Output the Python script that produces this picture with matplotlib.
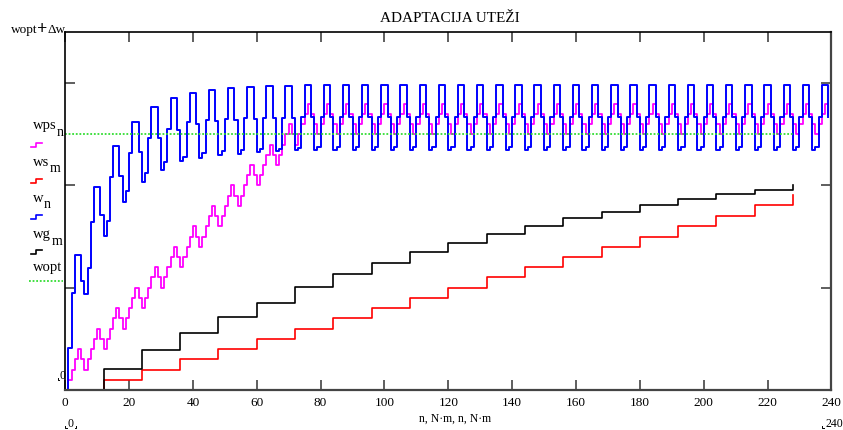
import matplotlib
matplotlib.use('Agg')

import matplotlib.pyplot as plt
from matplotlib.lines import Line2D
import numpy as np

plt.rcParams['font.family'] = ['Liberation Serif', 'DejaVu Serif']

# --- podatki (odčitani s slike) ---
N = 12
wopt = 0.5
dw = 0.2

# w_n : LMS utež, po vrsticah po 6 vzorcev (n = 6k .. 6k+5)
w_rows = [
    [0.000, 0.082, 0.190, 0.263, 0.263, 0.214],
    [0.188, 0.239, 0.329, 0.397, 0.397, 0.343],
    [0.302, 0.331, 0.416, 0.477, 0.477, 0.418],
    [0.367, 0.389, 0.463, 0.525, 0.525, 0.465],
    [0.406, 0.424, 0.492, 0.553, 0.553, 0.492],
    [0.431, 0.445, 0.510, 0.571, 0.571, 0.508],
    [0.447, 0.455, 0.524, 0.580, 0.580, 0.520],
    [0.453, 0.463, 0.527, 0.587, 0.587, 0.526],
    [0.459, 0.467, 0.530, 0.590, 0.590, 0.528],
    [0.462, 0.469, 0.531, 0.593, 0.593, 0.530],
    [0.465, 0.471, 0.532, 0.595, 0.595, 0.531],
    [0.467, 0.472, 0.532, 0.595, 0.595, 0.532],
    [0.469, 0.474, 0.533, 0.596, 0.596, 0.533],
    [0.470, 0.475, 0.533, 0.596, 0.596, 0.533],
    [0.470, 0.475, 0.533, 0.596, 0.596, 0.533],
    [0.470, 0.475, 0.533, 0.596, 0.596, 0.533],
    [0.470, 0.475, 0.533, 0.596, 0.596, 0.533],
    [0.470, 0.475, 0.533, 0.596, 0.596, 0.533],
    [0.470, 0.475, 0.533, 0.596, 0.596, 0.533],
    [0.470, 0.475, 0.533, 0.596, 0.596, 0.533],
    [0.470, 0.475, 0.533, 0.596, 0.596, 0.533],
    [0.470, 0.475, 0.533, 0.596, 0.596, 0.533],
    [0.470, 0.475, 0.533, 0.596, 0.596, 0.533],
    [0.470, 0.475, 0.533, 0.596, 0.596, 0.533],
    [0.470, 0.475, 0.533, 0.596, 0.596, 0.533],
    [0.470, 0.475, 0.533, 0.596, 0.596, 0.533],
    [0.470, 0.475, 0.533, 0.596, 0.596, 0.533],
    [0.470, 0.475, 0.533, 0.596, 0.596, 0.533],
    [0.470, 0.475, 0.533, 0.596, 0.596, 0.533],
    [0.470, 0.475, 0.533, 0.596, 0.596, 0.533],
    [0.470, 0.475, 0.533, 0.596, 0.596, 0.533],
    [0.470, 0.475, 0.533, 0.596, 0.596, 0.533],
    [0.470, 0.475, 0.533, 0.596, 0.596, 0.533],
    [0.470, 0.475, 0.533, 0.596, 0.596, 0.533],
    [0.470, 0.475, 0.533, 0.596, 0.596, 0.533],
    [0.470, 0.475, 0.533, 0.596, 0.596, 0.533],
    [0.470, 0.475, 0.533, 0.596, 0.596, 0.533],
    [0.470, 0.475, 0.533, 0.596, 0.596, 0.533],
    [0.470, 0.475, 0.533, 0.596, 0.596, 0.533],
    [0.470, 0.475, 0.533, 0.596, 0.596, 0.533],
]

# wps_n : predznačni LMS (korak 0.02)
wps_rows = [
    [0.00, 0.02, 0.04, 0.06, 0.08, 0.06],
    [0.04, 0.06, 0.08, 0.10, 0.12, 0.10],
    [0.08, 0.10, 0.12, 0.14, 0.16, 0.14],
    [0.12, 0.14, 0.16, 0.18, 0.20, 0.18],
    [0.16, 0.18, 0.20, 0.22, 0.24, 0.22],
    [0.20, 0.22, 0.24, 0.26, 0.28, 0.26],
    [0.24, 0.26, 0.28, 0.30, 0.32, 0.30],
    [0.28, 0.30, 0.32, 0.34, 0.36, 0.34],
    [0.32, 0.34, 0.36, 0.38, 0.40, 0.38],
    [0.36, 0.38, 0.40, 0.42, 0.44, 0.42],
    [0.40, 0.42, 0.44, 0.46, 0.48, 0.46],
    [0.44, 0.46, 0.48, 0.50, 0.52, 0.50],
    [0.48, 0.50, 0.52, 0.54, 0.56, 0.54],
    [0.52, 0.50, 0.52, 0.54, 0.56, 0.54],
    [0.52, 0.50, 0.52, 0.54, 0.56, 0.54],
    [0.52, 0.50, 0.52, 0.54, 0.56, 0.54],
    [0.52, 0.50, 0.52, 0.54, 0.56, 0.54],
    [0.52, 0.50, 0.52, 0.54, 0.56, 0.54],
    [0.52, 0.50, 0.52, 0.54, 0.56, 0.54],
    [0.52, 0.50, 0.52, 0.54, 0.56, 0.54],
    [0.52, 0.50, 0.52, 0.54, 0.56, 0.54],
    [0.52, 0.50, 0.52, 0.54, 0.56, 0.54],
    [0.52, 0.50, 0.52, 0.54, 0.56, 0.54],
    [0.52, 0.50, 0.52, 0.54, 0.56, 0.54],
    [0.52, 0.50, 0.52, 0.54, 0.56, 0.54],
    [0.52, 0.50, 0.52, 0.54, 0.56, 0.54],
    [0.52, 0.50, 0.52, 0.54, 0.56, 0.54],
    [0.52, 0.50, 0.52, 0.54, 0.56, 0.54],
    [0.52, 0.50, 0.52, 0.54, 0.56, 0.54],
    [0.52, 0.50, 0.52, 0.54, 0.56, 0.54],
    [0.52, 0.50, 0.52, 0.54, 0.56, 0.54],
    [0.52, 0.50, 0.52, 0.54, 0.56, 0.54],
    [0.52, 0.50, 0.52, 0.54, 0.56, 0.54],
    [0.52, 0.50, 0.52, 0.54, 0.56, 0.54],
    [0.52, 0.50, 0.52, 0.54, 0.56, 0.54],
    [0.52, 0.50, 0.52, 0.54, 0.56, 0.54],
    [0.52, 0.50, 0.52, 0.54, 0.56, 0.54],
    [0.52, 0.50, 0.52, 0.54, 0.56, 0.54],
    [0.52, 0.50, 0.52, 0.54, 0.56, 0.54],
    [0.52, 0.50, 0.52, 0.54, 0.56, 0.54],
]

# blokovne uteži (po N vzorcev)
ws_m = [0.000, 0.020, 0.040, 0.060, 0.080, 0.100, 0.120, 0.140, 0.160, 0.180,
        0.200, 0.220, 0.240, 0.260, 0.280, 0.300, 0.320, 0.340, 0.362, 0.382]
wg_m = [0.000, 0.041, 0.078, 0.112, 0.143, 0.171, 0.201, 0.226, 0.248, 0.269,
        0.288, 0.305, 0.321, 0.336, 0.349, 0.362, 0.373, 0.383, 0.391, 0.400]

w_n = [v for row in w_rows for v in row]
wps_n = [v for row in wps_rows for v in row]
n = np.arange(len(w_n))
m = np.arange(len(ws_m))

# --- slika ---
W, H = 843, 430
fig = plt.figure(figsize=(W / 100, H / 100), dpi=100)

def fx(px):
    return px / W

def fy(py):
    return 1 - py / H

x0, x1, y0, y1 = 65.2, 831.4, 32, 390
ax = fig.add_axes([fx(x0), fy(y1), fx(x1) - fx(x0), fy(y0) - fy(y1)])

ax.plot(n, wps_n, drawstyle='steps-post', color='#ff00ff', lw=1.3)
ax.plot(N * m, ws_m, drawstyle='steps-post', color='#ff0000', lw=1.2)
ax.plot(n, w_n, drawstyle='steps-post', color='#0000ff', lw=1.4)
ax.plot(N * m, wg_m, drawstyle='steps-post', color='black', lw=1.2)
ax.plot(N * m, np.full(len(m), wopt), color='#33dd33', lw=1.3, linestyle=(0, (1, 1)))

ax.set_xlim(0, 240)
ax.set_ylim(0, wopt + dw)
ax.set_xticks(np.arange(0, 241, 20))
ax.set_yticks([0.2, 0.4, 0.6])
ax.set_yticklabels([])
ax.tick_params(axis='both', direction='in', length=7.5, width=1.1, color='#333333',
               top=True, right=True, labelsize=9.5, pad=5)
ax.tick_params(axis='y', labelleft=False)

for side in ['left', 'top']:
    ax.spines[side].set_color('black')
    ax.spines[side].set_linewidth(1.2)
for side in ['bottom', 'right']:
    ax.spines[side].set_color('#444444')
    ax.spines[side].set_linewidth(1.6)
for s in ax.spines.values():
    s.set_zorder(5)

# naslov in oznake osi
fig.text(fx(450), fy(18), 'ADAPTACIJA UTEŽI', ha='center', va='center', fontsize=11)
fig.text(fx(455), fy(419), 'n, N·m, n, N·m', ha='center', va='center', fontsize=8.5)
fig.text(fx(70), fy(424), '0', ha='center', va='center', fontsize=8.5)
fig.text(fx(825), fy(424), '240', ha='left', va='center', fontsize=8.5)
fig.text(fx(65), fy(376), '0', ha='right', va='center', fontsize=8.5)

def corner(px, py, dx, dy):
    # majhne kotne oznake Mathcad mej
    fig.add_artist(Line2D([fx(px), fx(px), fx(px + dx)], [fy(py - dy), fy(py), fy(py)],
                          color='black', lw=0.7))

corner(58, 380, 1.5, 2)
corner(65, 428, 1.5, 2)
corner(76, 428, -1.5, 2)
corner(822, 428, 1.5, 2)

# levi seznam izrazov (Mathcad legenda)
fig.text(fx(37), fy(30), 'wopt', ha='right', va='center', fontsize=9.5)
fig.text(fx(42.5), fy(30), '+', ha='center', va='center', fontsize=13, fontweight='bold')
fig.text(fx(48), fy(30), 'Δw', ha='left', va='center', fontsize=9.5)

labels = [
    ('wps', 'n', 125, '#ff00ff', 145),
    ('ws', 'm', 162, '#ff0000', 181),
    ('w', 'n', 198, '#0000ff', 217),
    ('wg', 'm', 234, 'black', 252),
]
for base, sub, ty, col, sy in labels:
    t = fig.text(fx(33), fy(ty), base, ha='left', va='center', fontsize=10.5)
    fig.canvas.draw()
    bb = t.get_window_extent()
    fig.text(bb.x1 / W + 0.5 / W, fy(ty + 7), sub, ha='left', va='center', fontsize=10)
    fig.add_artist(Line2D([fx(31), fx(36), fx(36), fx(42)],
                          [fy(sy + 1.7), fy(sy + 1.7), fy(sy - 1.7), fy(sy - 1.7)],
                          color=col, lw=1.2))
fig.text(fx(33), fy(268), 'wopt', ha='left', va='center', fontsize=10.5)
fig.add_artist(Line2D([fx(29), fx(63)], [fy(281), fy(281)], color='#33dd33',
                      lw=1.3, linestyle=(0, (1, 1))))

fig.savefig('out.png', dpi=100, facecolor='white')
